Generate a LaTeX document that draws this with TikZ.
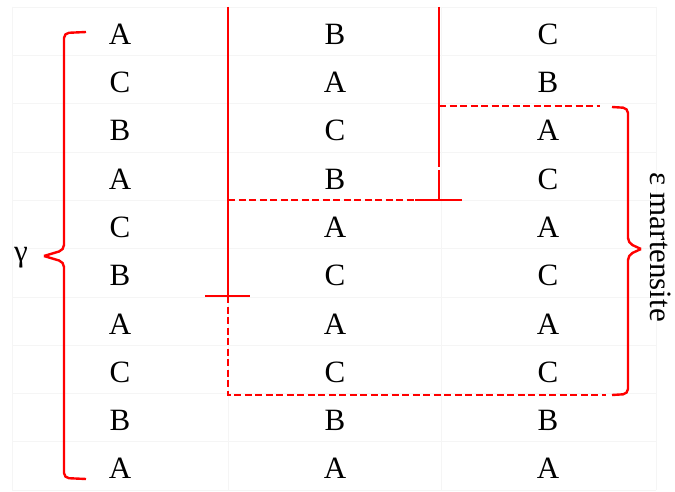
\documentclass[tikz,border=0pt]{standalone}
\usepackage{fontspec}
\setmainfont{Liberation Serif}
\begin{document}
\begin{tikzpicture}[x=1pt,y=-1pt,
  grid/.style={draw=black!4, line width=0.8pt},
  cell/.style={font=\fontsize{31}{31}\selectfont, inner sep=0pt, anchor=center},
  redthin/.style={draw=red, line width=1.2pt},
  redthick/.style={draw=red, line width=2.2pt},
  reddash/.style={draw=red, line width=1.8pt, dash pattern=on 7pt off 3.5pt},
  brace/.style={draw=red, line width=2.4pt, rounded corners=5pt},
  lbl/.style={font=\fontsize{31}{31}\selectfont, inner sep=0pt}]
\useasboundingbox (0,0) rectangle (675,492);
\fill[white] (0,0) rectangle (675,492);
% faint grid
\foreach \y in {7,55,103,152,200,248,297,345,393,441,490}
  \draw[grid] (12,\y) -- (656,\y);
\foreach \x in {12,228,441,656}
  \draw[grid] (\x,7) -- (\x,490);
% cells
\foreach \r/\a/\b/\c in {1/A/B/C,2/C/A/B,3/B/C/A,4/A/B/C,5/C/A/A,6/B/C/C,7/A/A/A,8/C/C/C,9/B/B/B,10/A/A/A}{
  \pgfmathsetmacro{\yy}{31+48.3*(\r-1)+3}
  \node[cell] (a\r) at (120,\yy) {\a};
  \node[cell] (b\r) at (335,\yy) {\b};
  \node[cell] (c\r) at (548,\yy) {\c};
}
% coordinates of the lines
\coordinate (L0) at (228,7);
\coordinate (L1) at (228,265);
\coordinate (LX) at (228,296);
\coordinate (LB) at (228,395);
\coordinate (LXl) at (205,296);
\coordinate (LXr) at (250,296);
\coordinate (R0) at (439,7);
\coordinate (R1) at (439,167);
\coordinate (R2) at (439,170);
\coordinate (RT) at (439,200);
\coordinate (RTl) at (415,200);
\coordinate (RTr) at (462,200);
\coordinate (LM) at (228,200);
\coordinate (RU) at (439,106);
\coordinate (RUe) at (600,106);
\coordinate (LBe) at (606,395);
% left solid line with cross
\draw[redthin] (L0) -- (L1);
\draw[redthick] (L1) -- (LX);
\draw[redthick] (LXl) -- (LXr);
\draw[reddash] (LX) -- (LB) -- (LBe);
% right solid line with T
\draw[redthin] (R0) -- (R1);
\draw[redthick] (R2) -- (RT);
\draw[redthick] (RTl) -- (RTr);
\draw[reddash] (LM) -- (RTl);
\draw[reddash] (RU) -- (RUe);
% left brace (gamma)
\draw[brace] (86,32) -- (64,33) -- (64,250) -- (44,256);
\draw[brace] (44,256) -- (64,262) -- (64,478) -- (86,479);
\node[lbl] (g) at (21,258) {γ};
% right brace (epsilon)
\draw[brace] (612,107) -- (628,108) -- (628,243) -- (641,249);
\draw[brace] (641,249) -- (628,255) -- (628,394) -- (612,395);
\node[lbl, rotate=-90] (e) at (661,247) {ε martensite};
\end{tikzpicture}
\end{document}
